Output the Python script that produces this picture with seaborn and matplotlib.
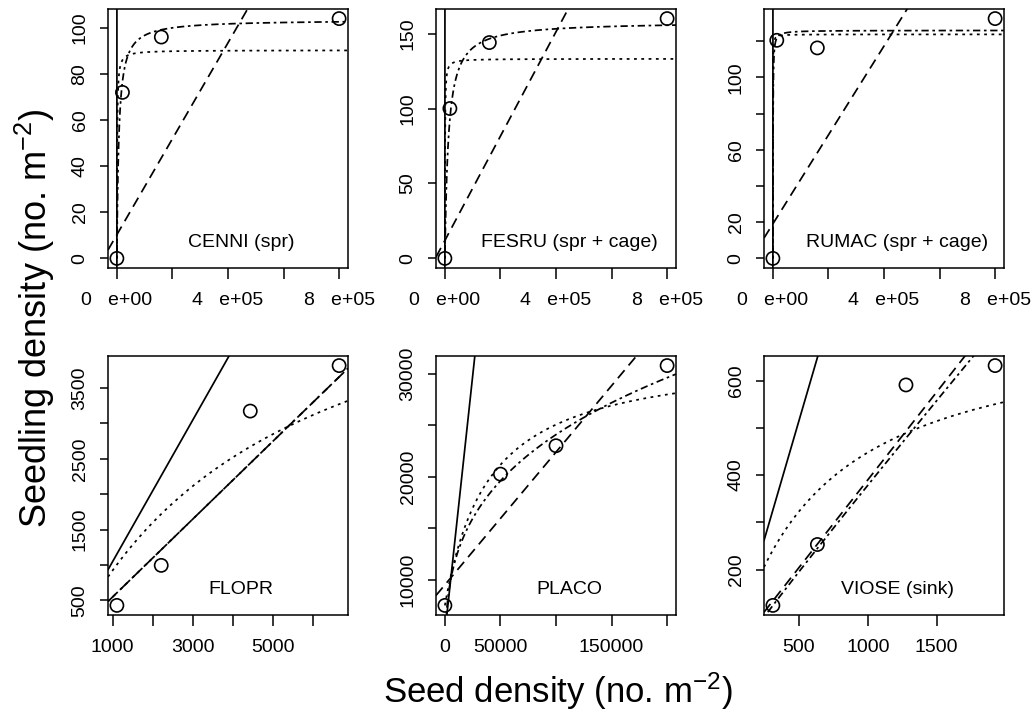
import numpy as np
import matplotlib
matplotlib.use("Agg")
import matplotlib.pyplot as plt
import seaborn as sns

# panels, left to right, top to bottom
species = ["CENNI (spr)", "FESRU (spr + cage)", "RUMAC (spr + cage)",
           "FLOPR", "PLACO", "VIOSE (sink)"]

# observed seed density (x) and seedling density (y)
seed_x = [
    [0, 20000, 160000, 800000],
    [0, 18000, 160000, 800000],
    [0, 14000, 160000, 800000],
    [1105, 2210, 4430, 6645],
    [0, 50000, 100000, 200000],
    [311, 634, 1277, 1924],
]
seedling_y = [
    [0, 72, 96, 104],
    [0, 100, 144, 160],
    [0, 120.5, 116.3, 132.5],
    [430, 995, 3173, 3815],
    [7500, 20260, 23020, 30810],
    [124, 253, 591, 632],
]

# fitted curves, all of the form y = c + a*x^b / (1 + a*x^b / P)
# solid: background + 1:1
solid_c = [0, 0, 0, 50, 4800, 15]
# dashed: straight line
dashed_c = [10.3, 12, 19.1, 0, 9500, 18]
dashed_a = [2.08e-4, 3.48e-4, 2.456e-4, 0.55, 0.129, 0.372]
# dotted: Beverton-Holt
dotted_c = [0, 0, 0, 0, 7500, 0]
dotted_a = [0.0903, 0.222, 0.825, 1.096, 0.615, 1.157]
dotted_P = [90.3, 133.2, 123.8, 5935, 24600, 731]
# dot-dash: saturating / power
dotdash_a = [0.01479, 0.0126, 0.252, 0.55, 780, 0.513]
dotdash_b = [1, 1, 1, 1, 0.298, 0.956]
dotdash_P = [103.5, 158, 126, np.inf, np.inf, np.inf]

# ticks and their labels (R drops the ones that would overlap)
x_ticks = [
    [0, 2e5, 4e5, 6e5, 8e5],
    [0, 2e5, 4e5, 6e5, 8e5],
    [0, 2e5, 4e5, 6e5, 8e5],
    [1000, 2000, 3000, 4000, 5000, 6000],
    [0, 50000, 100000, 150000, 200000],
    [500, 1000, 1500],
]
x_ticklabels = [
    ["0   e+00", "", "4   e+05", "", "8   e+05"],
    ["0   e+00", "", "4   e+05", "", "8   e+05"],
    ["0   e+00", "", "4   e+05", "", "8   e+05"],
    ["1000", "", "3000", "", "5000", ""],
    ["0", "50000", "", "150000", ""],
    ["500", "1000", "1500"],
]
y_ticks = [
    [0, 20, 40, 60, 80, 100],
    [0, 50, 100, 150],
    [0, 20, 40, 60, 80, 100, 120],
    [500, 1000, 1500, 2000, 2500, 3000, 3500],
    [10000, 15000, 20000, 25000, 30000],
    [200, 300, 400, 500, 600],
]
y_ticklabels = [
    ["0", "20", "40", "60", "80", "100"],
    ["0", "50", "100", "150"],
    ["0", "20", "", "60", "", "100", ""],
    ["500", "", "1500", "", "2500", "", "3500"],
    ["10000", "", "20000", "", "30000"],
    ["200", "", "400", "", "600"],
]


def curve(x, c, a, b, P):
    axb = a * np.power(x, b)
    return c + axb / (1 + axb / P)


def r_lim(v):
    # R's default 4% axis extension
    lo, hi = min(v), max(v)
    d = (hi - lo) * 0.04
    return lo - d, hi + d


sns.set_style("ticks")
plt.rcParams["font.family"] = ["Liberation Sans", "DejaVu Sans"]
plt.rcParams["mathtext.default"] = "regular"
plt.rcParams["axes.linewidth"] = 1.1
for k in ["text.color", "axes.labelcolor", "xtick.color", "ytick.color",
          "axes.edgecolor"]:
    plt.rcParams[k] = "black"

fig = plt.figure(figsize=(10.33, 7.16), dpi=100)

lefts = [108, 436, 764]
tops = [9, 356]
W, H = 1033, 716
lw = 1.25
dashed = (0, (6, 3.6))
dotted = (0, (1.6, 2.6))
dotdash = (0, (1.5, 2.1, 4.2, 2.1))

for i in range(6):
    row, col = divmod(i, 3)
    ax = fig.add_axes([lefts[col] / W, 1 - (tops[row] + 259) / H,
                       240 / W, 259 / H])
    xlo, xhi = r_lim(seed_x[i])
    ylo, yhi = r_lim(seedling_y[i])

    xs = np.linspace(xlo, xhi, 3000)
    x0 = max(xlo, 0)
    xc = np.concatenate([np.linspace(x0, x0 + (xhi - x0) * 0.03, 3000),
                         np.linspace(x0 + (xhi - x0) * 0.03, xhi, 2000)])

    sns.lineplot(x=xs, y=curve(xs, solid_c[i], 1, 1, np.inf), ax=ax,
                 color="black", lw=lw, estimator=None, sort=False)
    sns.lineplot(x=xs, y=curve(xs, dashed_c[i], dashed_a[i], 1, np.inf), ax=ax,
                 color="black", lw=lw, linestyle=dashed, estimator=None, sort=False)
    sns.lineplot(x=xc, y=curve(xc, dotted_c[i], dotted_a[i], 1, dotted_P[i]), ax=ax,
                 color="black", lw=lw, linestyle=dotted, estimator=None, sort=False)
    sns.lineplot(x=xc, y=curve(xc, 0, dotdash_a[i], dotdash_b[i], dotdash_P[i]), ax=ax,
                 color="black", lw=lw, linestyle=dotdash, estimator=None, sort=False)
    sns.scatterplot(x=seed_x[i], y=seedling_y[i], ax=ax, marker="o", s=90,
                    facecolors="none", edgecolor="black", linewidth=1.2, zorder=5)

    ax.set_xlim(xlo, xhi)
    ax.set_ylim(ylo, yhi)
    ax.set_xticks(x_ticks[i])
    ax.set_xticklabels(x_ticklabels[i])
    ax.set_yticks(y_ticks[i])
    ax.set_yticklabels(y_ticklabels[i], rotation=90, va="center", ha="right")
    ax.tick_params(axis="x", length=8, width=1.1, pad=9, labelsize=14)
    ax.tick_params(axis="y", length=6, width=1.1, pad=8, labelsize=14)
    ax.set_xlabel("")
    ax.set_ylabel("")
    for s in ax.spines.values():
        s.set_visible(True)
        s.set_color("black")
    ax.text(0.555, 0.10, species[i], transform=ax.transAxes,
            ha="center", va="center", fontsize=14)

fig.text(0.034, 0.555, "Seedling density (no. m$^{-2}$)", rotation=90,
         ha="center", va="center", fontsize=26)
fig.text(0.540, 0.035, "Seed density (no. m$^{-2}$)",
         ha="center", va="center", fontsize=25)

fig.savefig("out.png", dpi=100)
